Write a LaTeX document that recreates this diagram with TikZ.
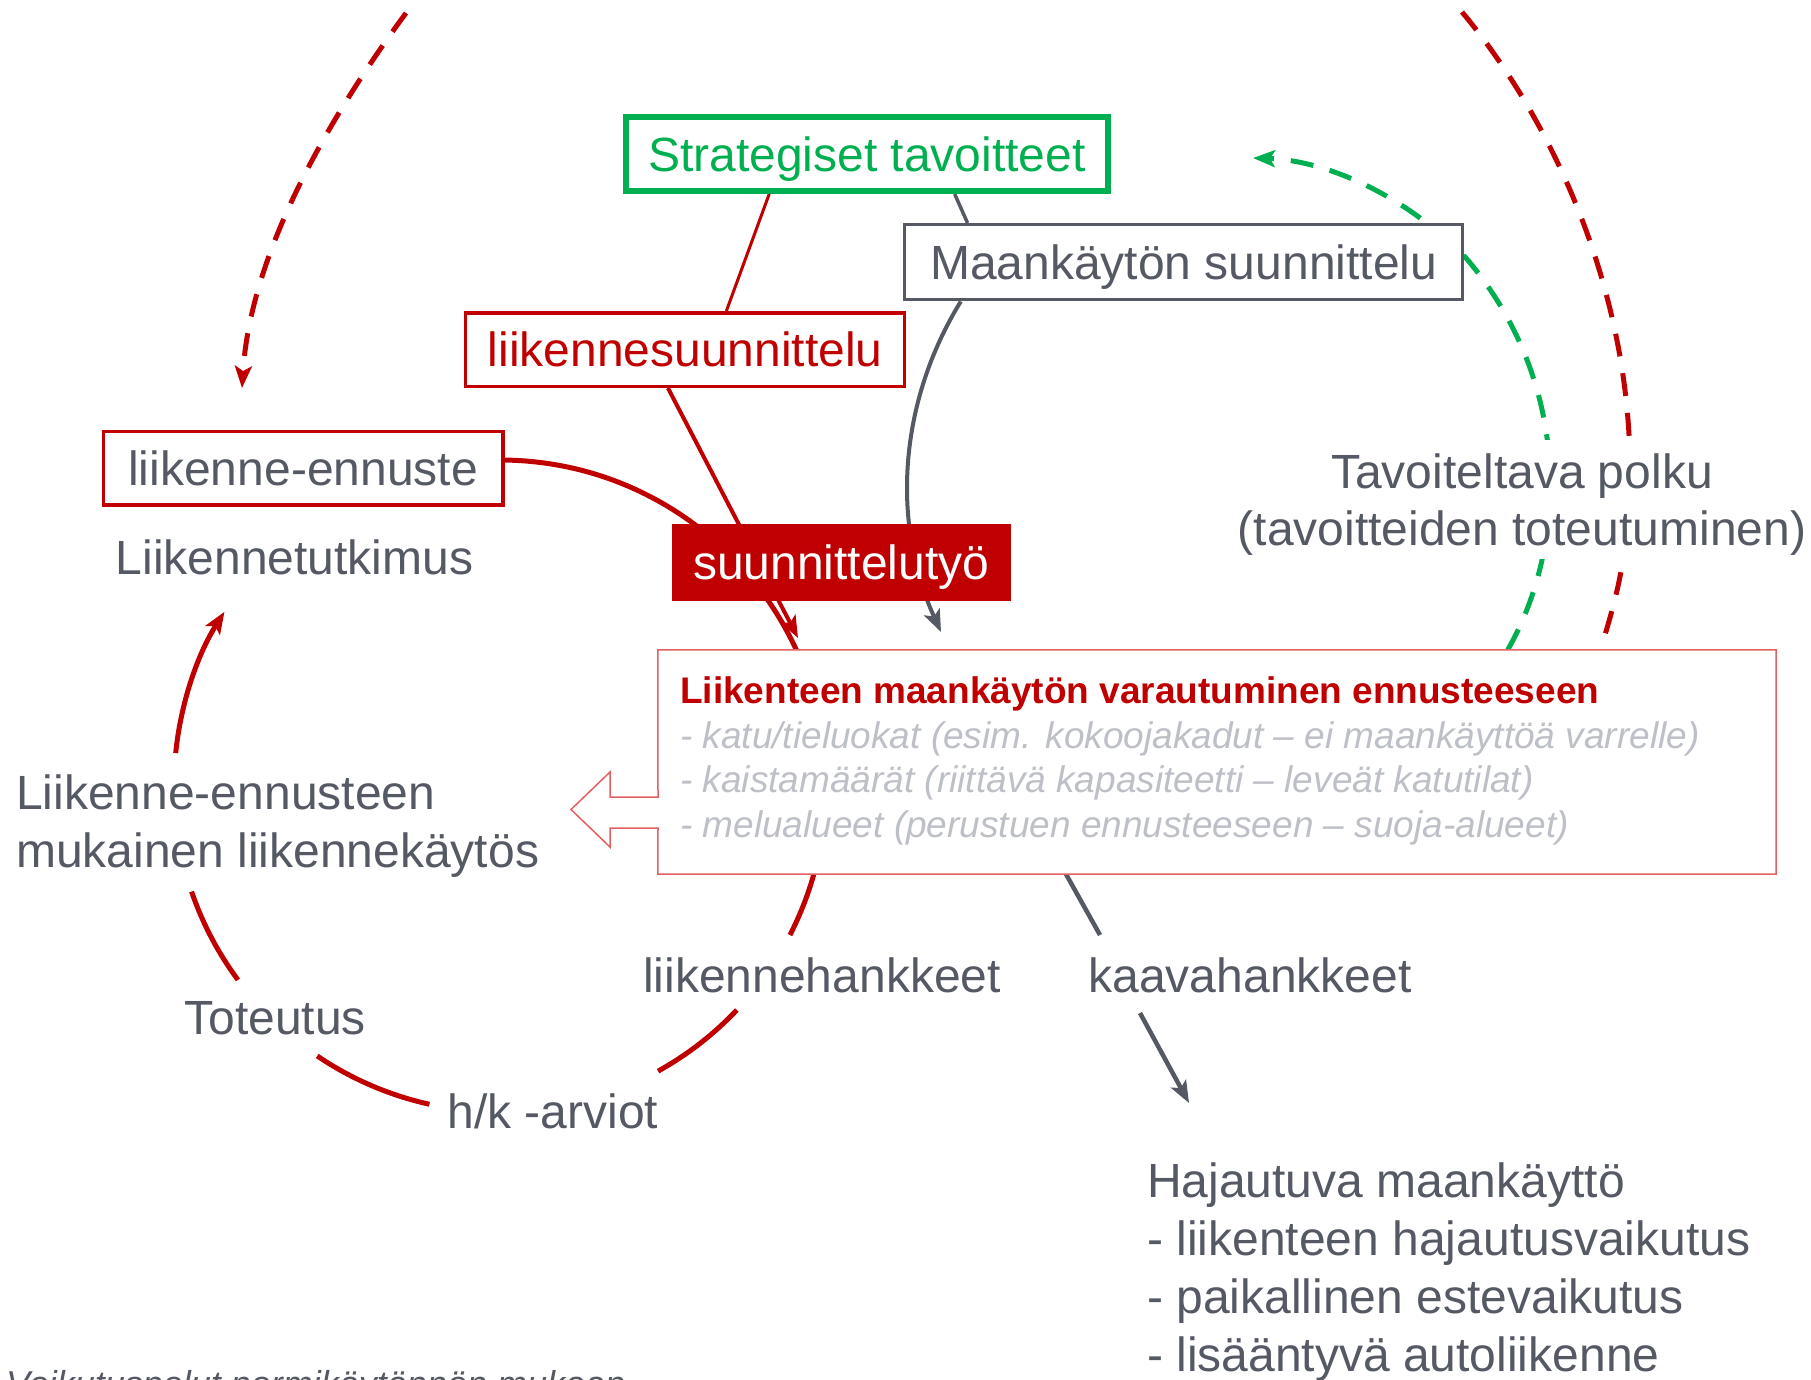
\documentclass[tikz,border=0pt]{standalone}
\usepackage{fontspec}
\setmainfont{Liberation Sans}
\usetikzlibrary{arrows.meta,backgrounds,calc}
\definecolor{dred}{RGB}{192,0,0}
\definecolor{sgreen}{RGB}{0,176,80}
\definecolor{tgrey}{RGB}{84,89,99}
\definecolor{lgrey}{RGB}{190,192,200}
\definecolor{lred}{RGB}{228,96,96}
\begin{document}
\begin{tikzpicture}[x=1pt,y=-1pt,
  lbl/.style={font=\fontsize{48}{58}\selectfont, text height=34.5pt, text depth=0pt, inner sep=0pt, text=tgrey},
  boxlbl/.style={lbl, draw, fill=white, line width=3.5pt},
  boxtxt/.style={inner sep=0pt, anchor=base west},
  arrowend/.style={-{Stealth[length=22pt,width=17pt,inset=5pt]}},
  cyc/.style={dred, line width=5pt},
  reddash/.style={dred, line width=5pt, dash pattern=on 23pt off 17pt},
  greendash/.style={sgreen, line width=5pt, dash pattern=on 23pt off 17pt},
  greyline/.style={tgrey, line width=4pt},
]
\useasboundingbox (0,0) rectangle (1811,1379);

% boxes
\node[boxlbl, draw=sgreen, text=sgreen, line width=6pt, minimum width=482pt, minimum height=74pt] (strat) at (866.8,154) {Strategiset tavoitteet};
\node[boxlbl, draw=tgrey, minimum width=558pt, minimum height=75pt] (maa) at (1183.7,262.2) {Maankäytön suunnittelu};
\node[boxlbl, draw=dred, text=dred, minimum width=439pt, minimum height=73.5pt] (lsuun) at (685.2,349.5) {liikennesuunnittelu};
\node[boxlbl, draw=dred, minimum width=399.5pt, minimum height=73.5pt] (lenn) at (303.1,468.4) {liikenne-ennuste};
\node[lbl, fill=dred, text=white, minimum width=338.6pt, minimum height=76.6pt] (sutyo) at (841.3,562.3) {suunnittelutyö};

% free labels
\node[lbl] (ltut) at (294.5,557) {Liikennetutkimus};
\node[lbl] (tot) at (275,1017.5) {Toteutus};
\node[lbl] (hk) at (553,1111) {h/k -arviot};
\node[lbl] (lhank) at (822,975) {liikennehankkeet};
\node[lbl] (kaava) at (1250,975) {kaavahankkeet};
\node[lbl, anchor=west] (lek1) at (16,792) {Liikenne-ennusteen};
\node[lbl, anchor=west] (lek2) at (16,850) {mukainen liikennekäytös};
\node[lbl, fill=white, inner xsep=6pt, inner ysep=14pt] (tav2) at (1522,528) {(tavoitteiden toteutuminen)};
\node[lbl, fill=white, inner xsep=6pt, inner ysep=14pt] (tav1) at (1522,471) {Tavoiteltava polku};
\node[lbl, anchor=west] (h1) at (1147,1180) {Hajautuva maankäyttö};
\node[lbl, anchor=west] (h2) at (1147,1238) {- liikenteen hajautusvaikutus};
\node[lbl, anchor=west] (h3) at (1147,1296) {- paikallinen estevaikutus};
\node[lbl, anchor=west] (h4) at (1147,1354) {- lisääntyvä autoliikenne};

% big box with hollow arrow
\node[fill=white, inner sep=0pt, minimum width=1118pt, minimum height=224pt] (bigbox) at (1217,762) {};
\draw[lred, line width=1.5pt, fill=white] (658,797) -- (bigbox.north west) -- (bigbox.north east) -- (bigbox.south east) -- (bigbox.south west) -- (658,828) -- (610,828) -- (610,847) -- (571,809.5) -- (610,772) -- (610,797) -- cycle;
\node[boxtxt, font=\fontsize{37}{44}\selectfont\bfseries, text=dred] (bt) at (680,703.5) {Liikenteen maankäytön varautuminen ennusteeseen};
\node[boxtxt, font=\fontsize{37}{44}\selectfont\itshape, text=lgrey] (b1) at (680,748) {- katu/tieluokat (esim. kokoojakadut – ei maankäyttöä varrelle)};
\node[boxtxt, font=\fontsize{37}{44}\selectfont\itshape, text=lgrey] (b2) at (680,792) {- kaistamäärät (riittävä kapasiteetti – leveät katutilat)};
\node[boxtxt, font=\fontsize{37}{44}\selectfont\itshape, text=lgrey] (b3) at (680,837) {- melualueet (perustuen ennusteeseen – suoja-alueet)};

% bottom note (cut by the page edge)
\node[boxtxt, font=\fontsize{36}{43}\selectfont\itshape, text=tgrey] (note) at (6,1396) {Vaikutuspolut normikäytännön mukaan};

\begin{pgfonlayer}{background}
\fill[white] (0,0) rectangle (1811,1379);
% cycle arc
\coordinate (C) at (500,786);
\draw[cyc] (C) ++(-89.1:326) arc[start angle=-89.1, end angle=27.2, radius=326];
\draw[cyc] (C) ++(43.4:326) arc[start angle=43.4, end angle=61, radius=326];
\draw[cyc] (C) ++(102.5:326) arc[start angle=102.5, end angle=124.1, radius=326];
\draw[cyc] (C) ++(143.5:326) arc[start angle=143.5, end angle=161.1, radius=326];
\draw[cyc, arrowend] (C) ++(185.8:326) arc[start angle=185.8, end angle=212.3, radius=326];
% strategic links
\draw[dred, line width=3pt] ($(strat.south west)!0.30!(strat.south east)$) -- ($(lsuun.north west)!0.593!(lsuun.north east)$);
\draw[tgrey, line width=3.5pt] ($(strat.south west)!0.68!(strat.south east)$) -- ($(maa.north west)!0.115!(maa.north east)$);
% liikennesuunnittelu -> box
\coordinate (rtip) at (798,638);
\draw[dred, line width=4pt, arrowend] ($(lsuun.south west)!0.461!(lsuun.south east)$) -- (rtip);
% maankaytto -> box
\coordinate (gtip) at (941,632);
\draw[greyline, arrowend] ($(maa.south west)!0.103!(maa.south east)$) .. controls (900,400) and (890,520) .. (gtip);
% kaavahankkeet line
\coordinate (ka1) at (1100,935);
\coordinate (ka2) at (1140,1013);
\coordinate (hajtip) at (1189,1103);
\draw[greyline, line width=4.5pt] ($(bigbox.south west)!0.365!(bigbox.south east)$) -- (ka1);
\draw[greyline, line width=4.5pt, arrowend] (ka2) -- (hajtip);
% dashed arcs
\coordinate (tl0) at (406,13);
\coordinate (tltip) at (242,388);
\draw[reddash, arrowend] (tl0) .. controls (320,130) and (250,260) .. (tltip);
\coordinate (tr0) at (1462,12);
\draw[reddash] (tr0) .. controls (1560,130) and (1630,300) .. (1630,470) .. controls (1630,560) and (1612,610) .. ($(bigbox.north west)!0.843!(bigbox.north east)$);
\coordinate (gntip) at (1253,158);
\draw[greendash, arrowend] ($(bigbox.north west)!0.760!(bigbox.north east)$) .. controls (1570,540) and (1570,380) .. (1466,258) .. controls (1400,190) and (1320,160) .. (gntip);
\end{pgfonlayer}
\end{tikzpicture}
\end{document}
